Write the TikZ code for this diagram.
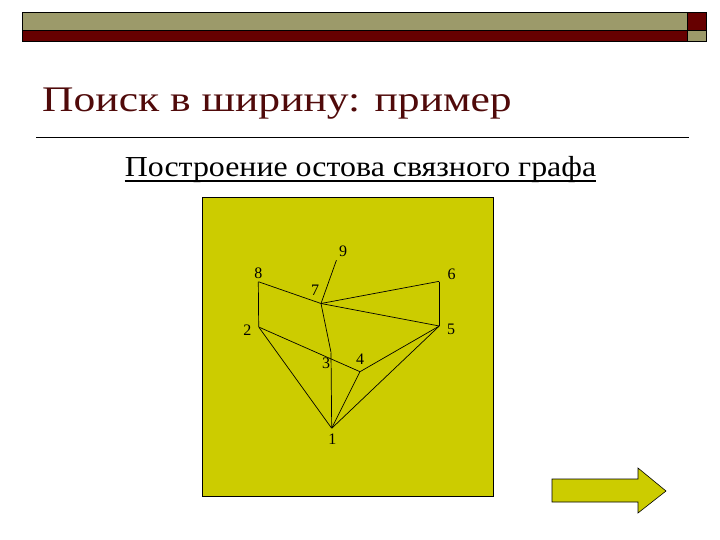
\documentclass[tikz,border=0pt]{standalone}
\usepackage{fontspec}
\setmainfont{Liberation Serif}
\usepackage{tikz}
\usetikzlibrary{positioning}
\usepackage{xcolor}

\definecolor{barolive}{RGB}{156,154,106}
\definecolor{barred}{RGB}{102,0,0}
\definecolor{titlered}{RGB}{80,10,10}
\definecolor{boardyellow}{RGB}{204,204,0}

\tikzset{
  vertex/.style={inner sep=0pt, minimum size=0pt},
  vlabel/.style={font=\fontsize{16}{16}\selectfont, inner sep=0pt},
  edge/.style={black, line width=0.7pt}
}

\begin{document}
\begin{tikzpicture} [x=1pt, y=-1pt]
					\useasboundingbox (0, 0) rectangle (720, 540);

					% top bars
					\filldraw [fill=barolive, draw=black] (22, 12.5) rectangle (687, 30);
					\filldraw [fill=barred, draw=black] (22, 30) rectangle (687, 41);
					\filldraw [fill=barred, draw=black] (687, 12.5) rectangle (706, 30);
					\filldraw [fill=barolive, draw=black] (687, 30) rectangle (706, 41);

					% titles
					\node [anchor=base west, inner sep=0pt, text=titlered, xscale=1.21, font=\fontsize{36}{36}\selectfont] (title) at (42, 112) {Поиск в ширину: пример};
					\draw [black] (36, 137.5)--(689, 137.5);
					\node [anchor=base, inner sep=0pt, xscale=1.1, font=\fontsize{29}{29}\selectfont] (subtitle) at (360.5, 177) {Построение остова связного графа};
					\draw [black, line width=1.2pt] ([yshift=-4pt]subtitle.base west) -- ([yshift=-4pt]subtitle.base east);

					% board
					\filldraw [fill=boardyellow, draw=black, line width=0.6pt] (202, 197) rectangle (493, 496);

					% vertices
					\node [vertex] (v1) at (331.7, 428.3) {};
					\node [vertex] (v2) at (258.7, 327) {};
					\node [vertex] (v3) at (331, 352.3) {};
					\node [vertex] (v4) at (360, 371.7) {};
					\node [vertex] (v5) at (439.3, 326) {};
					\node [vertex] (v6) at (439.3, 281.3) {};
					\node [vertex] (v7) at (321, 303.5) {};
					\node [vertex] (v8) at (258.3, 281.7) {};
					\node [vertex] (v9) at (336.5, 260) {};

					\node [vlabel] (l1) at (332.3, 439) {1};
					\node [vlabel] (l2) at (247.3, 330) {2};
					\node [vlabel] (l3) at (326, 363) {3};
					\node [vlabel] (l4) at (360, 359) {4};
					\node [vlabel] (l5) at (451, 329.5) {5};
					\node [vlabel] (l6) at (451.5, 274) {6};
					\node [vlabel] (l7) at (315, 290.5) {7};
					\node [vlabel] (l8) at (258.3, 273.7) {8};
					\node [vlabel] (l9) at (343, 251) {9};

					% edges
					\draw [edge] (v8)--(v2);
					\draw [edge] (v8)--(v7);
					\draw [edge] (v7)--(v9);
					\draw [edge] (v7)--(v6);
					\draw [edge] (v6)--(v5);
					\draw [edge] (v7)--(v5);
					\draw [edge] (v7)--(v3);
					\draw [edge] (v2)--(v4);
					\draw [edge] (v4)--(v5);
					\draw [edge] (v2)--(v1);
					\draw [edge] (v3)--(v1);
					\draw [edge] (v4)--(v1);
					\draw [edge] (v5)--(v1);

					% next arrow
					\filldraw [fill=boardyellow, draw=black, line width=0.6pt] (552, 479)--(638, 479)--(638, 468)--(666, 491)--(638, 513)--(638, 502)--(552, 502)--cycle;
				\end{tikzpicture}
\end{document}
